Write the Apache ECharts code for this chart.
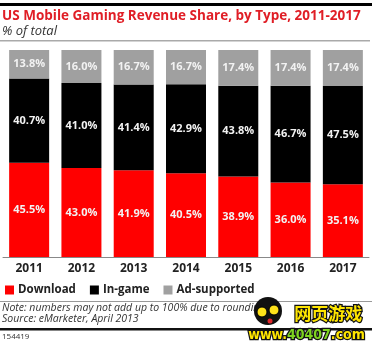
<!DOCTYPE html>
<html>
<head>
<meta charset="utf-8">
<script src="https://cdn.jsdelivr.net/npm/echarts@6/dist/echarts.min.js"></script>
<style>
  html, body { margin: 0; padding: 0; background: #fff; }
  #main { width: 378px; height: 351px; }
</style>
</head>
<body>
<div id="main"></div>
<script>
// years on the x axis
var years = ['2011', '2012', '2013', '2014', '2015', '2016', '2017'];
// % of total, by type
var download = [45.5, 43.0, 41.9, 40.5, 38.9, 36.0, 35.1];
var inGame = [40.7, 41.0, 41.4, 42.9, 43.8, 46.7, 47.5];
var adSupported = [13.8, 16.0, 16.7, 16.7, 17.4, 17.4, 17.4];

var labelStyle = {
    show: true,
    position: 'inside',
    color: '#f2f2f2',
    fontFamily: 'Open Sans',
    fontWeight: 'bold',
    fontSize: 11,
    formatter: function (p) { return p.value.toFixed(1) + '%'; }
};

function barSeries(name, data, color) {
    return {
        name: name,
        type: 'bar',
        stack: 'total',
        data: data,
        barWidth: 40,
        itemStyle: { color: color },
        label: labelStyle,
        emphasis: { disabled: true }
    };
}

var option = {
    animation: false,
    backgroundColor: '#fff',
    textStyle: { fontFamily: 'Open Sans' },
    grid: { left: 3, right: 9, top: 50, bottom: 94 },
    legend: {
        left: 0,
        top: 279,
        icon: 'rect',
        itemWidth: 9,
        itemHeight: 9,
        itemGap: 14,
        textStyle: { fontFamily: 'Open Sans', fontWeight: 'bold', fontSize: 11.5, color: '#222', padding: [0, 0, 0, -1] },
        data: ['Download', 'In-game', 'Ad-supported']
    },
    xAxis: {
        type: 'category',
        data: years,
        axisLine: { lineStyle: { color: '#888', width: 1 } },
        axisTick: { show: false },
        axisLabel: { color: '#222', fontWeight: 'bold', fontSize: 12, margin: 6 }
    },
    yAxis: {
        type: 'value',
        min: 0,
        max: 100,
        show: false
    },
    series: [
        barSeries('Download', download, '#ff0000'),
        barSeries('In-game', inGame, '#000000'),
        barSeries('Ad-supported', adSupported, '#a0a0a0')
    ],
    graphic: [
        { type: 'rect', shape: { x: 0, y: 3, width: 372, height: 3 }, style: { fill: '#000' } },
        { type: 'text', left: 2, top: 9, style: { text: 'US Mobile Gaming Revenue Share, by Type, 2011-2017', fill: '#e01e26', font: 'bold 13.5px "Open Sans"' } },
        { type: 'text', left: 2, top: 25, style: { text: '% of total', fill: '#333', font: 'italic 13px "Open Sans"' } },
        { type: 'rect', shape: { x: 0, y: 40, width: 370, height: 1.5 }, style: { fill: '#aaa' } },
        { type: 'rect', shape: { x: 0, y: 301, width: 372, height: 1 }, style: { fill: '#999' } },
        { type: 'text', left: 2, top: 303, style: { text: 'Note: numbers may not add up to 100% due to rounding', fill: '#333', font: 'italic 10.5px "Open Sans"' } },
        { type: 'text', left: 2, top: 314, style: { text: 'Source: eMarketer, April 2013', fill: '#333', font: 'italic 10.5px "Open Sans"' } },
        { type: 'rect', shape: { x: 0, y: 328, width: 372, height: 2.5 }, style: { fill: '#111' } },
        { type: 'text', left: 2, top: 333, style: { text: '154419', fill: '#333', font: '8px "Open Sans"' } },
        // watermark
        { type: 'circle', shape: { cx: 268, cy: 311, r: 14 }, style: { fill: '#111' } },
        { type: 'circle', shape: { cx: 262, cy: 312, r: 5 }, style: { fill: '#ffe21a', stroke: '#000', lineWidth: 1 } },
        { type: 'circle', shape: { cx: 274, cy: 310, r: 5 }, style: { fill: '#ffe21a', stroke: '#000', lineWidth: 1 } },
        { type: 'circle', shape: { cx: 270, cy: 321, r: 2.5 }, style: { fill: '#e0262a' } },
        { type: 'text', left: 293, top: 304, style: { text: '网页游戏', fill: '#ffe600', stroke: '#111', lineWidth: 2.5, font: 'bold 17px "Noto Sans CJK SC"' } },
        { type: 'text', left: 247, top: 327, style: { text: '{y|www.}{g|40407}{y|.com}', stroke: '#111', lineWidth: 2.5, font: 'bold 14px "DejaVu Sans Condensed"',
            rich: { y: { fill: '#ffe600', stroke: '#111', lineWidth: 2.5, font: 'bold 14px "DejaVu Sans Condensed"' },
                    g: { fill: '#7ed321', stroke: '#111', lineWidth: 2.5, font: 'bold 14px "DejaVu Sans Condensed"' } } } }
    ]
};

var dom = document.getElementById('main');
var myChart = echarts.init(dom);
myChart.setOption(option);
</script>
</body>
</html>
